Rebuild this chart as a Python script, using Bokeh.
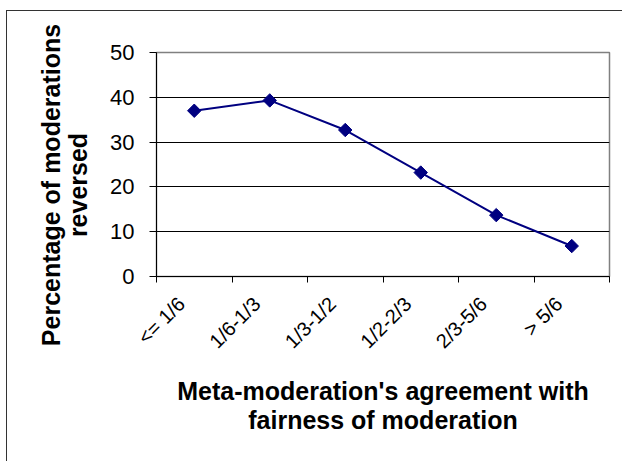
import math
from bokeh.plotting import figure
from bokeh.layouts import row
from bokeh.models import FixedTicker, Range1d
from bokeh.core.properties import value
from bokeh.embed import file_html
from bokeh.resources import INLINE

categories = ["<= 1/6", "1/6-1/3", "1/3-1/2", "1/2-2/3", "2/3-5/6", "> 5/6"]
values = [37.0, 39.3, 32.7, 23.2, 13.7, 6.8]
y_ticks = [0, 10, 20, 30, 40, 50]
y_title = ["Percentage of moderations", "reversed"]
x_title = ["Meta-moderation's agreement with", "fairness of moderation"]

FONT = "Liberation Sans"
n = len(categories)
xs = [i + 0.5 for i in range(n)]
label_pos = [x - 0.17 for x in xs]   # label anchor slightly left of category centre

H = 450
W_TITLE = 100

# narrow panel that carries the rotated y-axis title
t = figure(width=W_TITLE, height=H, output_backend="svg", toolbar_location=None,
           x_range=Range1d(0, W_TITLE), y_range=Range1d(0, H),
           x_axis_location=None, y_axis_location=None, min_border=0)
t.frame_align = False
t.grid.grid_line_color = None
t.outline_line_color = None
t.background_fill_color = "white"
t.border_fill_color = "white"
t.text(x=[43, 70.8], y=[H - 173.5, H - 173.5], text=y_title, angle=math.pi / 2,
       text_align="center", text_baseline="alphabetic",
       text_font=value(FONT), text_font_size="25px", text_font_style="bold",
       text_color="black")

p = figure(width=615 - W_TITLE, height=H, output_backend="svg", toolbar_location=None,
           x_range=Range1d(0, n), y_range=Range1d(y_ticks[0], y_ticks[-1]),
           min_border_left=149 - W_TITLE, min_border_right=13, min_border_top=41,
           min_border_bottom=185)
p.frame_align = False
p.background_fill_color = "white"
p.border_fill_color = "white"
p.outline_line_color = "#808080"
p.outline_line_width = 1.5

# x axis
xa = p.xaxis[0]
xa.ticker = FixedTicker(ticks=label_pos, minor_ticks=list(range(n + 1)))
xa.major_label_overrides = {x: c for x, c in zip(label_pos, categories)}
xa.major_tick_out = 0
xa.major_tick_in = 0
xa.minor_tick_out = 6
xa.minor_tick_in = 0
xa.minor_tick_line_color = "black"
xa.axis_line_color = "black"
xa.axis_line_width = 1
xa.major_label_orientation = math.pi / 4
xa.major_label_text_font = FONT
xa.major_label_text_font_size = "20px"
xa.major_label_text_color = "black"
xa.major_label_standoff = 18
xa.axis_label = "\n".join(x_title)
xa.axis_label_text_font = FONT
xa.axis_label_text_font_size = "25px"
xa.axis_label_text_font_style = "bold"
xa.axis_label_text_color = "black"
xa.axis_label_text_line_height = 1.05
xa.axis_label_standoff = 14

# y axis
ya = p.yaxis[0]
ya.ticker = FixedTicker(ticks=y_ticks)
ya.major_tick_out = 7
ya.major_tick_in = 0
ya.minor_tick_line_color = None
ya.axis_line_color = "black"
ya.major_tick_line_color = "black"
ya.major_label_text_font = FONT
ya.major_label_text_font_size = "22px"
ya.major_label_text_color = "black"
ya.major_label_standoff = 15

p.xgrid.grid_line_color = None
p.ygrid.ticker = FixedTicker(ticks=y_ticks[1:-1])
p.ygrid.grid_line_color = "black"
p.ygrid.grid_line_width = 1

p.line(xs, values, line_color="#000080", line_width=2)
p.scatter(xs, values, marker="square", angle=math.pi / 4, size=9.5,
          fill_color="#000080", line_color="#000080")

layout = row(t, p, spacing=0)
layout.styles = {"margin-left": "6px", "margin-top": "10px",
                 "border-left": "1.5px solid #333333", "border-top": "1.5px solid #333333"}

open("out.html", "w").write(file_html(layout, INLINE))
